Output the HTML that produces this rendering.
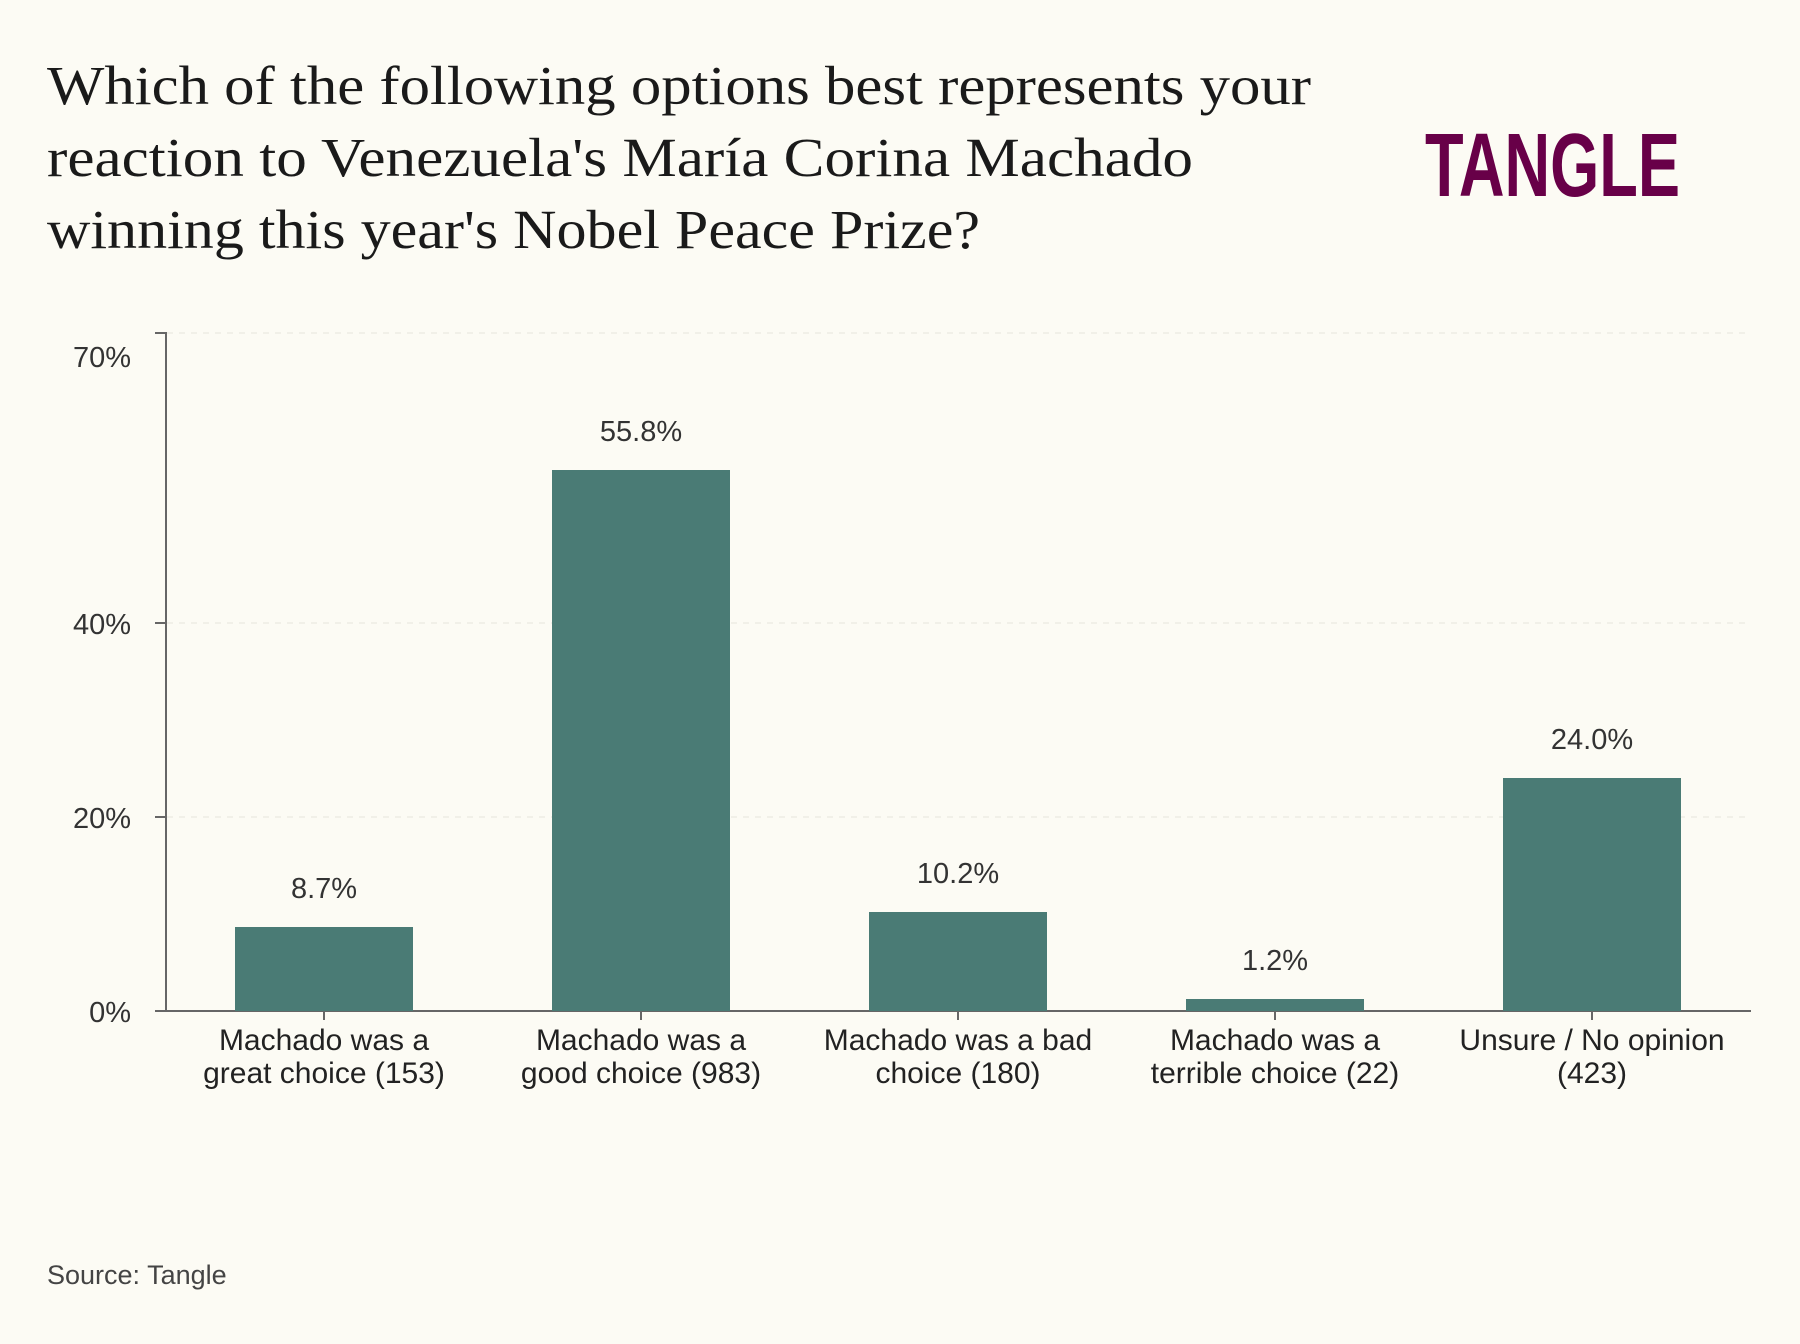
<!DOCTYPE html>
<html><head><meta charset="utf-8"><style>
body{margin:0;background:#fcfbf4;}
svg{display:block}
</style></head><body>
<svg width="1800" height="1344" viewBox="0 0 1800 1344" xmlns="http://www.w3.org/2000/svg">
<rect width="1800" height="1344" fill="#fcfbf4"/>
<g font-family="Liberation Serif, serif" font-size="55" fill="#1a1a1a" lengthAdjust="spacingAndGlyphs">
<text x="47" y="104" textLength="1264" lengthAdjust="spacingAndGlyphs">Which of the following options best represents your</text>
<text x="47" y="176" textLength="1146" lengthAdjust="spacingAndGlyphs">reaction to Venezuela's María Corina Machado</text>
<text x="47" y="248" textLength="933" lengthAdjust="spacingAndGlyphs">winning this year's Nobel Peace Prize?</text>
</g>
<text x="1425" y="196" font-family="Liberation Sans Narrow, Liberation Sans, sans-serif" font-weight="bold" font-size="90" fill="#680048" textLength="255" lengthAdjust="spacingAndGlyphs">TANGLE</text>
<g stroke="#e6e4dc" stroke-dasharray="6,6" stroke-width="1">
<line x1="167" x2="1751" y1="333" y2="333"/>
<line x1="167" x2="1751" y1="623" y2="623"/>
<line x1="167" x2="1751" y1="817" y2="817"/>
</g>
<g stroke="#666" stroke-width="2">
<line x1="166" x2="166" y1="332" y2="1012"/>
<line x1="155" x2="1751" y1="1011" y2="1011"/>
<line x1="155" x2="166" y1="333" y2="333"/>
<line x1="155" x2="166" y1="623" y2="623"/>
<line x1="155" x2="166" y1="817" y2="817"/>
<line x1="324" x2="324" y1="1011" y2="1020"/>
<line x1="641" x2="641" y1="1011" y2="1020"/>
<line x1="958" x2="958" y1="1011" y2="1020"/>
<line x1="1275" x2="1275" y1="1011" y2="1020"/>
<line x1="1592" x2="1592" y1="1011" y2="1020"/>
</g>
<g font-family="Liberation Sans, sans-serif" font-size="29" fill="#333" text-anchor="end">
<text x="131" y="367">70%</text>
<text x="131" y="634">40%</text>
<text x="131" y="828">20%</text>
<text x="131" y="1022">0%</text>
</g>
<g fill="#4a7b75">
<rect x="235" y="927" width="178" height="84"/>
<rect x="552" y="470" width="178" height="541"/>
<rect x="869" y="912" width="178" height="99"/>
<rect x="1186" y="999" width="178" height="12"/>
<rect x="1503" y="778" width="178" height="233"/>
</g>
<g font-family="Liberation Sans, sans-serif" font-size="29" fill="#333" text-anchor="middle">
<text x="324" y="898">8.7%</text>
<text x="641" y="441">55.8%</text>
<text x="958" y="883">10.2%</text>
<text x="1275" y="970">1.2%</text>
<text x="1592" y="749">24.0%</text>
</g>
<g font-family="Liberation Sans, sans-serif" font-size="30" fill="#222" text-anchor="middle">
<text x="324" y="1050">Machado was a</text><text x="324" y="1083">great choice (153)</text>
<text x="641" y="1050">Machado was a</text><text x="641" y="1083">good choice (983)</text>
<text x="958" y="1050">Machado was a bad</text><text x="958" y="1083">choice (180)</text>
<text x="1275" y="1050">Machado was a</text><text x="1275" y="1083">terrible choice (22)</text>
<text x="1592" y="1050">Unsure / No opinion</text><text x="1592" y="1083">(423)</text>
</g>
<text x="47" y="1284" font-family="Liberation Sans, sans-serif" font-size="27" fill="#444">Source: Tangle</text>
</svg>
</body></html>
